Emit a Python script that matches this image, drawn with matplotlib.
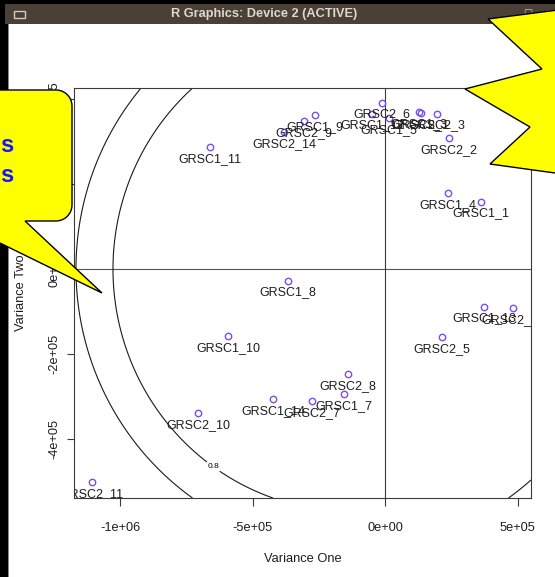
import numpy as np
import matplotlib
matplotlib.use("Agg")
import matplotlib.pyplot as plt
from matplotlib.patches import Rectangle, Polygon
from matplotlib.transforms import Affine2D

W, H = 555, 577

# sample scores on the two variance axes
samples = ["GRSC1_11", "GRSC2_14", "GRSC2_9", "GRSC1_9", "GRSC2_6", "GRSC1_12",
           "GRSC1_5", "GRSC1_3", "GRSC2_1", "GRSC2_3", "GRSC2_2", "GRSC1_4",
           "GRSC1_1", "GRSC1_13", "GRSC2_12", "GRSC2_5", "GRSC1_8", "GRSC1_10",
           "GRSC2_10", "GRSC1_14", "GRSC2_11", "GRSC2_8", "GRSC1_7", "GRSC2_7"]
var_one = [-660e3, -381e3, -306e3, -264e3, -11e3, -49e3,
           15e3, 128e3, 136e3, 196e3, 242e3, 238e3,
           362e3, 374e3, 483e3, 215e3, -366e3, -592e3,
           -706e3, -423e3, -1106e3, -140e3, -155e3, -275e3]
var_two = [287e3, 322e3, 348e3, 362e3, 391e3, 365e3,
           355e3, 369e3, 367e3, 365e3, 308e3, 179e3,
           158e3, -89e3, -92e3, -160e3, -28e3, -158e3,
           -339e3, -306e3, -501e3, -247e3, -294e3, -311e3]

x_ticks = [-1e6, -5e5, 0, 5e5]
x_tick_labels = ["-1e+06", "-5e+05", "0e+00", "5e+05"]
y_ticks = [-4e5, -2e5, 0, 2e5, 4e5]
y_tick_labels = ["-4e+05", "-2e+05", "0e+00", "2e+05", "4e+05"]
contour_levels = [0.8, 0.9]

x_lim = (-1.1736e6, 0.5509e6)
y_lim = (-0.5388e6, 0.4259e6)

plt.rcParams["font.family"] = ["Liberation Sans", "DejaVu Sans"]

fig = plt.figure(figsize=(W / 100, H / 100), dpi=100)
fig.patch.set_facecolor("white")
px = Affine2D().scale(1 / W, -1 / H).translate(0, 1) + fig.transFigure


def rect(x0, y0, x1, y1, color, z=-1):
    fig.add_artist(Rectangle((x0, y1), x1 - x0, y0 - y1, transform=px,
                             facecolor=color, edgecolor="none", zorder=z))


# window frame and title bar
rect(0, 0, W, 4, "black")
rect(0, 0, 8, H, "black")
rect(5, 4, W, 24, "#4a4037")
rect(8, 24, 9, H, "#8a8a8a")
fig.add_artist(Rectangle((14, 18), 11, -7, transform=px, facecolor="none",
                         edgecolor="#d0ccc6", lw=1.0, zorder=0))
fig.text(264 / W, 1 - 14 / H, "R Graphics: Device 2 (ACTIVE)", color="#dcd8d2",
         fontsize=9.2, fontweight="bold", ha="center", va="center", zorder=0)
for bx, sym in [(502, "_"), (528, "□"), (550, "x")]:
    fig.text(bx / W, 1 - 13 / H, sym, color="#cfcac4", fontsize=7,
             ha="center", va="center", zorder=0,
             family=["DejaVu Sans"])

# plot region
ax = fig.add_axes([74 / W, 1 - 498 / H, (531 - 74) / W, (498 - 88) / H])
ax.set_xlim(*x_lim)
ax.set_ylim(*y_lim)
for s in ax.spines.values():
    s.set_color("#3a3a3a")
    s.set_linewidth(0.8)

ax.axhline(0, color="#555555", lw=0.8)
ax.axvline(0, color="#3a3a3a", lw=0.8)

# contour surface (elliptical levels around a centre left of the origin)
centre_x = -1.302e5
sx, sy = 1.1792e6, 0.75e6


def surface(x, y):
    return np.hypot((x - centre_x) / sx, y / sy) ** 0.8134


gx = np.linspace(x_lim[0], 0, 400)
gy = np.linspace(y_lim[0], y_lim[1], 400)
GX, GY = np.meshgrid(gx, gy)
cs = ax.contour(GX, GY, surface(GX, GY), levels=contour_levels,
                colors="#1a1a1a", linewidths=0.8)
labels = ax.clabel(cs, levels=[0.8], manual=[(-6.49e5, -4.66e5)], inline=True,
                   inline_spacing=2, fontsize=6, fmt="%.1f", colors="black")
for txt in labels:
    txt.set_rotation(0)

gx2 = np.linspace(3e5, x_lim[1], 200)
gy2 = np.linspace(y_lim[0], -3.5e5, 200)
GX2, GY2 = np.meshgrid(gx2, gy2)
ax.contour(GX2, GY2, surface(GX2, GY2), levels=[contour_levels[1]],
           colors="#1a1a1a", linewidths=0.8)

# sample points with labels underneath
ax.plot(var_one, var_two, linestyle="none", marker="o", ms=4.6, mfc="none",
        mec="#7a4ef0", mew=1.0, zorder=3)
for name, vx, vy in zip(samples, var_one, var_two):
    ax.annotate(name, (vx, vy), xytext=(0, -8.4), textcoords="offset points",
                ha="center", va="center", fontsize=9, color="#1e1e1e",
                clip_on=True, annotation_clip=False)

ax.set_xticks(x_ticks)
ax.set_xticklabels(x_tick_labels)
ax.set_yticks(y_ticks)
ax.set_yticklabels(y_tick_labels, rotation=90, va="center")
ax.tick_params(axis="x", length=5.5, width=0.8, color="#3a3a3a", pad=11.5,
               labelsize=9.2, labelcolor="#1e1e1e")
ax.tick_params(axis="y", length=5, width=0.8, color="#3a3a3a", pad=4.6,
               labelsize=9.2, labelcolor="#1e1e1e")
ax.set_xlabel("Variance One", fontsize=9.3, color="#1e1e1e")
ax.set_ylabel("Variance Two", fontsize=9.3, color="#1e1e1e")
ax.xaxis.set_label_coords(0.5, -0.134)
ax.yaxis.set_label_coords(-0.1018, 0.5)

# speech bubble on the left
r = 16
verts = [(-60, 90), (72 - r, 90)]
t = np.linspace(-np.pi / 2, 0, 12)
verts += list(zip(72 - r + r * np.cos(t), 90 + r + r * np.sin(t)))
t = np.linspace(0, np.pi / 2, 12)
verts += list(zip(72 - r + r * np.cos(t), 221 - r + r * np.sin(t)))
verts += [(25, 221), (102, 293), (-45, 221), (-60, 221), (-60, 90)]
fig.add_artist(Polygon(verts, closed=True, transform=px, facecolor="#ffff00",
                       edgecolor="black", lw=1.0, zorder=10))
for yb in (152, 182):
    fig.text(13 / W, 1 - yb / H, "s", color="#1515ff", fontsize=17,
             fontweight="bold", ha="right", va="baseline", zorder=11)

# burst callout at top right
burst = [(488, 19), (620, 2), (620, 182), (490, 164), (530, 127),
         (465, 89), (542, 69)]
fig.add_artist(Polygon(burst, closed=True, transform=px, facecolor="#ffff00",
                       edgecolor="black", lw=1.0, zorder=10))

fig.savefig("out.png", dpi=100)
